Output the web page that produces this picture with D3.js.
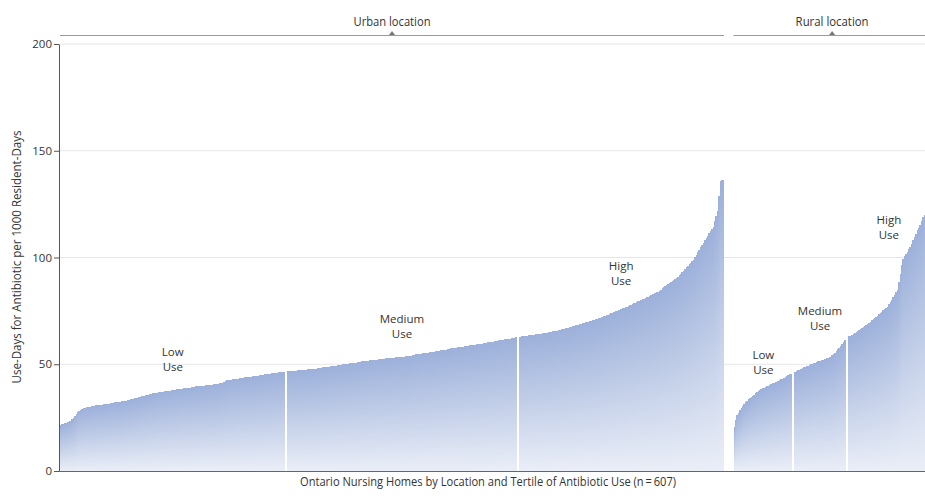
<!DOCTYPE html>
<html>
<head>
<meta charset="utf-8">
<script src="https://cdn.jsdelivr.net/npm/d3@7"></script>
<style>
  body { margin: 0; background: #fff; }
  svg { display: block; font-family: "Open Sans", "Noto Sans", sans-serif; }
</style>
</head>
<body>
<svg id="chart" width="925" height="496"></svg>
<script>
// Location groups and tertile names
const locations = ["Urban location", "Rural location"];
const tertiles = ["Low", "Medium", "High"];
const yTicks = [0, 50, 100, 150, 200];
const xTitle = "Ontario Nursing Homes by Location and Tertile of Antibiotic Use (n\u2009=\u2009607)";
const yTitle = "Use-Days for Antibiotic per 1000 Resident-Days";

// Use-days per 1000 resident-days, one value per nursing home, sorted
const urbanLow = [
  21.5, 21.8, 22.0, 22.3, 22.6, 22.9, 23.2, 23.6, 24.2, 25.0, 25.9, 26.8, 27.6,
  28.3, 28.8, 29.2, 29.5, 29.7, 29.9, 30.0, 30.1, 30.2, 30.4, 30.5,
  30.6, 30.7, 30.8, 30.9, 31.0, 31.1, 31.2, 31.3, 31.4, 31.5, 31.6, 31.8, 31.9, 32.0, 32.1, 32.2,
  32.3, 32.4, 32.5, 32.6, 32.7, 32.9, 33.0, 33.2,
  33.3, 33.5, 33.7, 33.8, 34.0, 34.2, 34.4, 34.5, 34.7, 34.9, 35.1, 35.3, 35.4, 35.6, 35.8, 35.9,
  36.1, 36.3, 36.4, 36.6, 36.7, 36.9, 37.0,
  37.1, 37.2, 37.3, 37.4, 37.5, 37.6, 37.7, 37.8, 37.9, 38.0, 38.1, 38.2, 38.3, 38.4, 38.5, 38.6,
  38.7, 38.8, 38.9, 39.0, 39.1, 39.2, 39.4, 39.5,
  39.6, 39.7, 39.8, 39.8, 39.9, 40.0, 40.0, 40.1, 40.2, 40.3, 40.3, 40.4, 40.5, 40.6, 40.7, 40.8,
  40.9, 41.0, 41.1,
  41.4, 41.8, 42.1, 42.4, 42.6,
  42.7, 42.8, 42.9, 43.0, 43.1, 43.2, 43.3, 43.4, 43.5, 43.6, 43.7, 43.8, 43.9, 44.0, 44.1, 44.2,
  44.3, 44.4, 44.5, 44.6, 44.7, 44.8, 44.9, 45.0, 45.1, 45.2, 45.3, 45.4, 45.5, 45.6, 45.7, 45.8,
  45.9, 46.0, 46.1, 46.2, 46.3, 46.4, 46.5, 46.6
];
const urbanMedium = [
  46.7, 46.7, 46.8, 46.8, 46.9, 46.9, 47.0, 47.0, 47.1, 47.1, 47.2,
  47.3, 47.4, 47.4, 47.5, 47.6, 47.7, 47.7, 47.8, 47.9, 48.0, 48.0, 48.1, 48.2, 48.3,
  48.4, 48.5, 48.6, 48.7, 48.8, 48.9, 49.0, 49.1, 49.2, 49.3, 49.4, 49.5, 49.6, 49.7, 49.8, 49.9,
  50.0, 50.1, 50.2, 50.3, 50.4, 50.5, 50.6, 50.7, 50.8, 50.9, 51.0, 51.2,
  51.3, 51.4, 51.5, 51.5, 51.6, 51.7, 51.8, 51.9, 51.9, 52.0, 52.1, 52.2, 52.3, 52.3, 52.4, 52.5,
  52.6, 52.7, 52.7, 52.8, 52.9, 53.0, 53.0, 53.1, 53.2, 53.2, 53.3, 53.4, 53.4, 53.5, 53.6, 53.7,
  53.7, 53.8, 53.9, 54.0,
  54.2, 54.4, 54.6, 54.7, 54.8, 54.9, 55.0, 55.1, 55.2, 55.3, 55.4, 55.5, 55.6, 55.7, 55.8, 55.9,
  56.0, 56.1, 56.2, 56.3, 56.5, 56.6, 56.7, 56.8, 56.9, 57.1, 57.2, 57.4,
  57.5, 57.6, 57.7, 57.8, 57.9, 58.0, 58.1, 58.2, 58.3, 58.4, 58.5, 58.7, 58.8, 58.9, 59.0, 59.1,
  59.2, 59.3, 59.4, 59.5, 59.6, 59.7, 59.8, 59.9, 60.0, 60.2, 60.3, 60.4, 60.5, 60.6, 60.7, 60.9,
  61.0, 61.2, 61.3,
  61.4, 61.5, 61.6, 61.7, 61.8, 61.9, 62.0, 62.1, 62.3, 62.4, 62.6, 62.7
];
const urbanHigh = [
  62.8, 62.9, 63.0, 63.1, 63.2, 63.3, 63.4, 63.5, 63.6, 63.7, 63.8, 63.9, 64.0, 64.1, 64.2, 64.3,
  64.4, 64.5, 64.6, 64.7, 64.8, 64.9, 65.0,
  65.2, 65.4, 65.5, 65.7, 65.8, 66.0, 66.2, 66.3, 66.5, 66.6, 66.8, 67.0,
  67.2, 67.4, 67.6, 67.8, 68.0, 68.2, 68.4, 68.6, 68.8, 69.0, 69.2, 69.4, 69.6, 69.8, 70.0, 70.2,
  70.4, 70.6, 70.8, 71.0, 71.3, 71.5, 71.8, 72.0,
  72.3, 72.5, 72.8, 73.0, 73.3, 73.6, 73.9, 74.2, 74.5, 74.8, 75.1, 75.4, 75.6, 75.9, 76.2, 76.5,
  76.7, 77.0, 77.3, 77.6, 77.9, 78.2, 78.5,
  78.8, 79.1, 79.4, 79.8, 80.1, 80.4, 80.7, 81.0, 81.4, 81.7, 82.0, 82.4, 82.7, 83.0, 83.4, 83.7, 84.0,
  84.5, 85.0, 85.5, 86.0, 86.5, 87.0, 87.5, 88.0, 88.5, 89.0, 89.5, 90.0, 90.5, 91.0,
  91.7, 92.4, 93.2, 93.9, 94.6, 95.4, 96.1, 96.8, 97.5, 98.3, 99.0,
  100.1, 101.3, 102.4, 103.6, 104.7, 105.9, 107.0,
  108.1, 109.2, 110.2, 111.3, 112.3, 113.4, 114.4,
  117.0, 119.5, 122.0,
  129.0, 136.0, 136.3, 136.5
];
const ruralLow = [
  20.5, 24.0, 26.0, 27.3, 28.4,
  29.4, 30.4, 31.3, 32.2, 33.0,
  33.6, 34.2, 34.8, 35.3, 35.8, 36.4, 36.9, 37.4, 37.9,
  38.3, 38.7, 39.0, 39.4, 39.7, 40.0, 40.3, 40.7, 41.0, 41.3, 41.6, 41.9, 42.2, 42.6,
  42.9, 43.3, 43.7, 44.1, 44.5, 44.9, 45.3, 45.6, 45.9
];
const ruralMedium = [
  46.3, 46.6, 46.9, 47.2, 47.5, 47.9, 48.2, 48.5, 48.8, 49.1, 49.4, 49.7, 50.0, 50.3, 50.6,
  50.8, 51.0, 51.3, 51.5, 51.7, 52.0, 52.2, 52.4, 52.7, 52.9, 53.2, 53.4,
  54.1, 54.8, 55.5, 56.3, 57.0, 57.8, 58.6, 59.4, 60.4, 61.3, 62.2
];
const ruralHigh = [
  62.6, 63.0, 63.4, 63.8, 64.3, 64.7, 65.2, 65.6, 66.1, 66.5, 67.0, 67.5, 68.0, 68.5, 69.0,
  69.5, 70.0, 70.6, 71.1, 71.7, 72.2, 72.8, 73.4, 74.0, 74.6, 75.2, 75.8, 76.4, 77.0,
  78.1, 79.2, 80.3, 81.5, 82.6, 83.8, 85.0,
  88.5, 92.5, 96.5, 99.5,
  100.5, 101.5, 102.5, 103.8, 105.0,
  106.5, 108.0, 109.6, 111.2, 113.0,
  114.0, 115.0, 117.0, 119.0, 120.0,
  121.5, 124.0, 127.0, 131.0
];

const groups = [
  [urbanLow, urbanMedium, urbanHigh],
  [ruralLow, ruralMedium, ruralHigh]
];

// ---- layout ----
const width = 925, height = 496;
const plotLeft = 60, baseline = 471, plotTop = 44;
const urbanRight = 724;
const locationGap = 6.7;              // empty slots between the two locations
const urbanCount = d3.sum(groups[0], g => g.length);
const ruralCount = d3.sum(groups[1], g => g.length);
const unit = (urbanRight - plotLeft) / urbanCount;
const totalUnits = urbanCount + locationGap + ruralCount;

// vertical position ("Use" line) of each tertile caption, in data units
const captionLevels = [[48.9, 64.2, 89.1], [47.6, 68.1, 111.0]];

const svg = d3.select("#chart");

const x = d3.scaleLinear().domain([0, totalUnits]).range([plotLeft, plotLeft + totalUnits * unit]);
const y = d3.scaleLinear().domain([0, 200]).range([baseline, plotTop]);

// Bar fill gradient
const defs = svg.append("defs");
const grad = defs.append("linearGradient").attr("id", "barFill")
  .attr("x1", 0).attr("y1", 0).attr("x2", 0).attr("y2", 1);
grad.append("stop").attr("offset", "0%").attr("stop-color", "#9cb0da");
grad.append("stop").attr("offset", "100%").attr("stop-color", "#eaeef7");

// Gridlines
svg.append("g").selectAll("line")
  .data(yTicks.filter(t => t > 0))
  .join("line")
  .attr("x1", plotLeft).attr("x2", width)
  .attr("y1", d => y(d)).attr("y2", d => y(d))
  .attr("stroke", "#e6e6e6").attr("stroke-width", 1);

// Flatten bars with their slot index
const bars = [];
const segments = [];
groups.forEach((tg, li) => {
  let start = li === 0 ? 0 : urbanCount + locationGap;
  tg.forEach((vals, ti) => {
    segments.push({ li, ti, start, vals });
    vals.forEach((v, k) => bars.push({ idx: start + k, v }));
    start += vals.length;
  });
});

// Pixel-snapped bars so neighbours butt together without seams
svg.append("g").attr("shape-rendering", "crispEdges").selectAll("rect")
  .data(bars)
  .join("rect")
  .attr("x", d => Math.round(x(d.idx)))
  .attr("width", d => Math.max(1, Math.round(x(d.idx + 1)) - Math.round(x(d.idx))))
  .attr("y", d => y(d.v))
  .attr("height", d => y(0) - y(d.v))
  .attr("fill", "url(#barFill)");

// White dividers between tertiles
const dividers = segments.filter(s => s.ti > 0).map(s => {
  const prev = segments.find(p => p.li === s.li && p.ti === s.ti - 1);
  return { idx: s.start, top: Math.max(prev.vals[prev.vals.length - 1], s.vals[0]) };
});
svg.append("g").selectAll("line")
  .data(dividers)
  .join("line")
  .attr("x1", d => Math.round(x(d.idx))).attr("x2", d => Math.round(x(d.idx)))
  .attr("y1", y(0)).attr("y2", d => y(d.top))
  .attr("stroke", "#fff").attr("stroke-width", 2);

// Tertile captions
const captions = svg.append("g")
  .attr("font-size", 11.5).attr("fill", "#333").attr("text-anchor", "middle");
segments.forEach(s => {
  const cx = x(s.start + s.vals.length / 2);
  const cy = y(captionLevels[s.li][s.ti]);
  captions.append("text").attr("x", cx).attr("y", cy - 15)
    .attr("dominant-baseline", "central").text(tertiles[s.ti]);
  captions.append("text").attr("x", cx).attr("y", cy)
    .attr("dominant-baseline", "central").text("Use");
});

// Y axis
const yAxis = svg.append("g")
  .attr("transform", `translate(${plotLeft - 1},0)`)
  .call(d3.axisLeft(y).tickValues(yTicks).tickSize(5).tickSizeOuter(0).tickPadding(2));
yAxis.select(".domain").attr("stroke", "#555");
yAxis.selectAll(".tick line").attr("stroke", "#555");
yAxis.selectAll(".tick text")
  .attr("font-size", 11.5).attr("fill", "#333")
  .attr("font-family", "\"Open Sans\", \"Noto Sans\", sans-serif");

// X baseline
svg.append("line")
  .attr("x1", plotLeft - 1).attr("x2", width)
  .attr("y1", baseline + 0.5).attr("y2", baseline + 0.5)
  .attr("stroke", "#666").attr("stroke-width", 1);

// Location brackets above the plot
const brackets = [
  { name: locations[0], a: 0, b: urbanCount, len: 77 },
  { name: locations[1], a: urbanCount + locationGap, b: totalUnits, len: 73 }
];
const bg = svg.append("g");
brackets.forEach(br => {
  const x0 = x(br.a), x1 = x(br.b), cx = (x0 + x1) / 2;
  bg.append("line").attr("x1", x0).attr("x2", x1).attr("y1", 35.5).attr("y2", 35.5)
    .attr("stroke", "#9a9a9a").attr("stroke-width", 1);
  bg.append("path")
    .attr("d", `M${cx - 3},35 L${cx + 3},35 L${cx},31 Z`)
    .attr("fill", "#777");
  bg.append("text").attr("x", cx).attr("y", 26)
    .attr("text-anchor", "middle").attr("font-size", 12).attr("fill", "#333")
    .attr("textLength", br.len).attr("lengthAdjust", "spacingAndGlyphs")
    .text(br.name);
});

// Axis titles
svg.append("text")
  .attr("x", 488).attr("y", 486)
  .attr("text-anchor", "middle").attr("font-size", 12).attr("fill", "#333")
  .attr("textLength", 376).attr("lengthAdjust", "spacingAndGlyphs")
  .text(xTitle);

svg.append("text")
  .attr("transform", "translate(21,257) rotate(-90)")
  .attr("text-anchor", "middle").attr("font-size", 12).attr("fill", "#333")
  .attr("textLength", 253).attr("lengthAdjust", "spacingAndGlyphs")
  .text(yTitle);
</script>
</body>
</html>
